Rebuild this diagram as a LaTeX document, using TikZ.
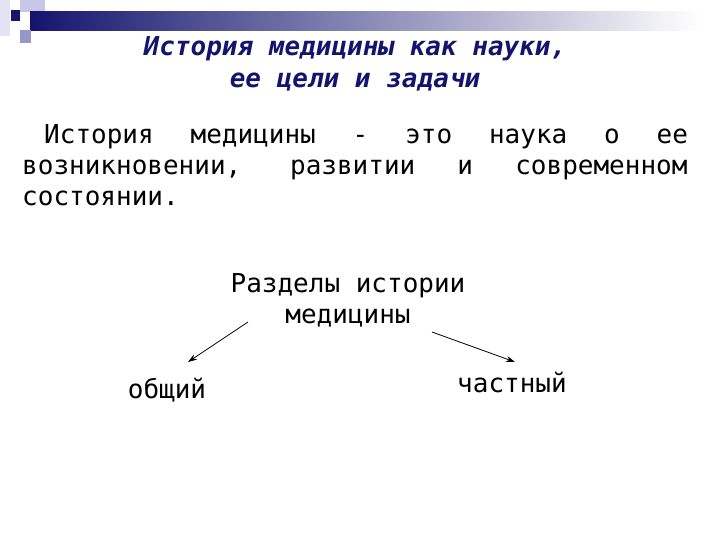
\documentclass[tikz,border=0pt]{standalone}
\usepackage{fontspec}
\setmainfont{DejaVu Sans Mono}
\usetikzlibrary{arrows.meta}
\definecolor{navy}{RGB}{20,20,110}
\definecolor{lav}{RGB}{200,200,230}
\definecolor{lav2}{RGB}{150,150,200}
\begin{document}
\begin{tikzpicture}[x=1pt,y=-1pt,
  txt/.style={font=\fontsize{26}{31}\selectfont, inner sep=0},
  ttl/.style={font=\fontsize{26}{32}\selectfont\bfseries\itshape, text=navy, align=center, inner sep=0},
  arr/.style={-{Stealth[length=9pt,width=6pt]}, line width=0.8pt}]
\useasboundingbox (0,0) rectangle (720,540);
\fill[white] (0,0) rectangle (720,540);
% decoration
\fill[lav!50] (0,0) rectangle (10,36);
\fill[lav] (20,0) rectangle (32,12);
\fill[lav] (32,0) rectangle (45,30);
\shade[left color=navy, right color=white] (30,12) rectangle (700,31);
\fill[lav2] (20,30) rectangle (31,43);
\fill[navy] (11,10) rectangle (20,21);
\node[ttl] (title) at (355,64) {История медицины как науки,\\ее цели и задачи};
\node[txt, anchor=north west, text width=668pt] (par) at (22,124)
 {\spaceskip=0.6em plus 20em\xspaceskip=\spaceskip\hspace*{22pt}История медицины - это наука о ее\linebreak возникновении, развитии и современном\linebreak состоянии.};
\node[txt, align=center] (razd) at (348,300) {Разделы истории\\медицины};
\node[txt] (ob) at (167,390) {общий};
\node[txt] (ch) at (512,382) {частный};
\coordinate (a1) at (248,322);
\coordinate (a2) at (432,332);
\draw[arr] (a1) -- (188,362);
\draw[arr] (a2) -- (515,362);
\end{tikzpicture}
\end{document}
